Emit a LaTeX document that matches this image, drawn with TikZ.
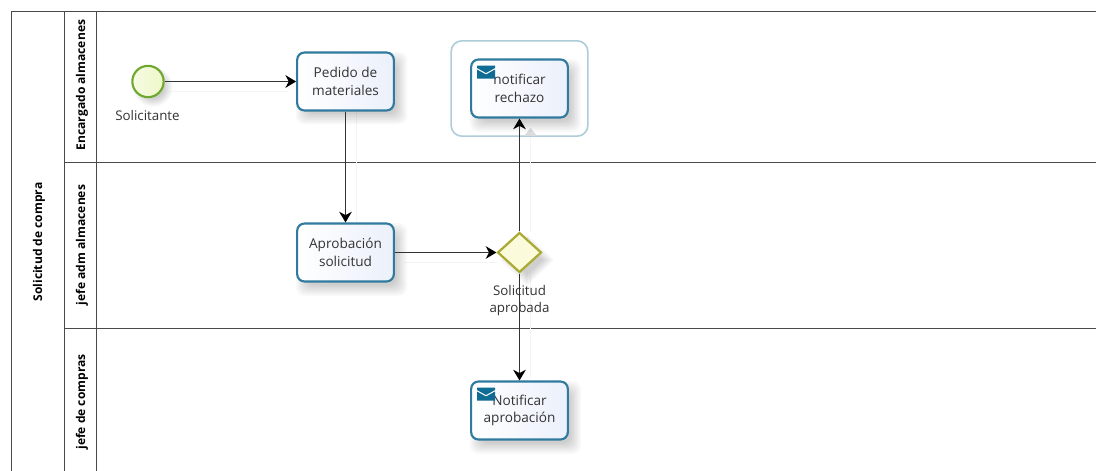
\documentclass[tikz,border=0pt]{standalone}
\usepackage{fontspec}
\setmainfont{Open Sans}
\usetikzlibrary{arrows.meta,shapes.geometric,calc}
\definecolor{lanecol}{HTML}{4A4A4A}
\definecolor{taskcol}{HTML}{2F7A9E}
\definecolor{groupcol}{HTML}{AECDD9}
\definecolor{taskfill}{HTML}{EBF0FB}
\definecolor{startcol}{HTML}{6FA82E}
\definecolor{startfill}{HTML}{EEF7C8}
\definecolor{gatecol}{HTML}{ABAB33}
\definecolor{gatefill}{HTML}{FBFBDC}
\definecolor{envcol}{HTML}{0F6C95}
\definecolor{txtcol}{HTML}{333333}
\definecolor{ghost}{HTML}{F3F4F4}
\tikzset{
  x=0.75pt,y=-0.75pt,
  laneline/.style={draw=lanecol,line width=0.7pt},
  lanehead/.style={font=\fontsize{9.05pt}{10pt}\selectfont\bfseries,text=black,rotate=90,inner sep=0pt},
  taskbox/.style={rectangle,rounded corners=5.5pt,draw=taskcol,line width=1.6pt,minimum width=72.5pt,minimum height=43.5pt,inner sep=0pt,
     shade,shading angle=135,left color=white,right color=taskfill,align=center,
     font=\fontsize{10.2pt}{13.2pt}\selectfont,text=txtcol},
  boxshadow/.style={rectangle,rounded corners=6pt,fill=black,fill opacity=0.022,draw=none,inner sep=0pt},
  lbl/.style={font=\fontsize{10pt}{13.4pt}\selectfont,text=txtcol,align=center,inner sep=0pt},
  flow/.style={draw=black!80,line width=0.75pt,-{Stealth[length=8pt,width=9.5pt,inset=2.5pt,color=black,fill=black]}},
  ghostline/.style={draw=ghost,line width=0.75pt},
  envelope/.style={fill=envcol,draw=none},
}
\newcommand{\tasksh}[2]{%
  \foreach \i in {0,1,...,7}{%
    \node[boxshadow,minimum width={(68+2.2*\i)*1pt},minimum height={(39+2.2*\i)*1pt}] at ($(#1,#2)+(6,7)$) {};}%
}
\newcommand{\envicon}[2]{%
  \fill[envelope] (#1,#2) -- ++(18,0) -- ++(0,2.5) -- ++(-9,5) -- ++(-9,-5) -- cycle;
  \fill[envelope] (#1,{#2+4}) -- ++(9,5) -- ++(9,-5) -- ++(0,9) -- ++(-18,0) -- cycle;
}
\begin{document}
\begin{tikzpicture}
\useasboundingbox (0,0) rectangle (1096,471);
\fill[white] (0,0) rectangle (1096,471);
% pool and lanes
\draw[laneline] (11.5,471) -- (11.5,11.5) -- (1096,11.5);
\draw[laneline] (64.5,11.5) -- (64.5,471);
\draw[laneline] (96.5,11.5) -- (96.5,471);
\draw[laneline] (64.5,162.5) -- (1096,162.5);
\draw[laneline] (64.5,328.5) -- (1096,328.5);
\node[lanehead] (pool) at (39,242) {Solicitud de compra};
\node[lanehead] (l1) at (82,85) {Encargado almacenes};
\node[lanehead] (l2) at (82,245) {jefe adm almacenes};
\node[lanehead] (l3) at (82,402) {jefe de compras};
% faint connector shadows
\coordinate (g1a) at (170,91.5); \coordinate (g1b) at (288,91.5);
\coordinate (g2a) at (356.5,112); \coordinate (g2b) at (356.5,222);
\coordinate (g3a) at (404,262.5); \coordinate (g3b) at (497,262.5);
\coordinate (g4a) at (530.5,136); \coordinate (g4b) at (530.5,232);
\coordinate (g5a) at (530.5,275); \coordinate (g5b) at (530.5,378);
\draw[ghostline] (g1a) -- (g1b);
\draw[ghostline] (g2a) -- (g2b);
\draw[ghostline] (g3a) -- (g3b);
\draw[ghostline] (g4a) -- (g4b);
\draw[ghostline] (g5a) -- (g5b);
% group
\node[rectangle,rounded corners=8pt,draw=groupcol,line width=1.2pt,minimum width=102.5pt,minimum height=71.5pt,inner sep=0pt] (grp) at (519.5,88.5) {};
\fill[ghost!90!black] (524,136) -- (530.5,128) -- (537,136) -- cycle;
% shadows
\tasksh{345.5}{81}
\tasksh{519.5}{88.5}
\tasksh{345.5}{252.5}
\tasksh{519.5}{410.5}
\foreach \i in {0,1,...,7}{\fill[black,opacity=0.022] (153,87) circle ({12+1.1*\i});}
\foreach \i in {0,1,...,7}{\fill[black,opacity=0.022] ({527-16-1.6*\i},260) -- (527,{260-15-1.6*\i}) -- ({527+16+1.6*\i},260) -- (527,{260+15+1.6*\i}) -- cycle;}
% flow objects
\node[circle,draw=startcol,line width=1.6pt,minimum size=23.5pt,inner sep=0pt,shade,shading angle=135,left color=white!50!startfill,right color=startfill] (start) at (148,81.5) {};
\node[lbl] (startl) at (147.5,115) {Solicitante};
\node[taskbox] (pedido) at (345.5,81.5) {Pedido de\\materiales};
\node[taskbox] (rechazo) at (519.5,88.5) {notificar\\rechazo};
\node[taskbox] (aprob) at (345.5,252.5) {Aprobación\\solicitud};
\node[diamond,draw=gatecol,line width=1.7pt,minimum width=33pt,minimum height=30pt,inner sep=0pt,fill=gatefill] (gate) at (519.5,252.5) {};
\node[taskbox] (notif) at (519.5,410.5) {Notificar\\aprobación};
% connectors
\draw[flow] (start) -- (pedido);
\draw[flow] (pedido) -- (aprob);
\draw[flow] (aprob) -- (gate);
\draw[flow] (gate) -- (rechazo);
\draw[flow] (gate) -- (notif);
\node[lbl] (gatel) at (519.5,300.5) {Solicitud\\aprobada};
% message markers
\envicon{477}{65.5}
\envicon{477}{387.5}
\end{tikzpicture}
\end{document}
